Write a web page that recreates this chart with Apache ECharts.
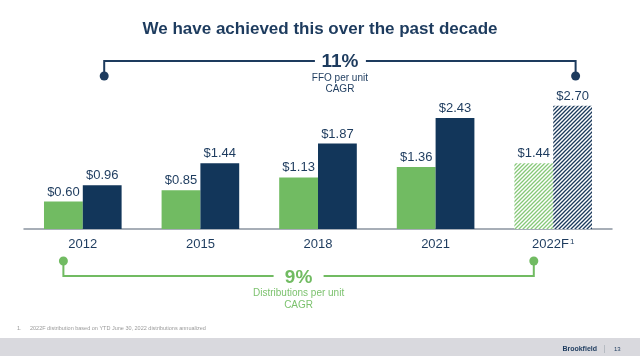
<!DOCTYPE html>
<html>
<head>
<meta charset="utf-8">
<script src="https://cdn.jsdelivr.net/npm/echarts@6/dist/echarts.min.js"></script>
<style>html,body{margin:0;padding:0;background:#fff}#c{width:640px;height:356px}</style>
</head>
<body>
<div id="c"></div>
<script>
const categories = ['2012', '2015', '2018', '2021', '2022F'];
const distributions = [0.60, 0.85, 1.13, 1.36, 1.44];
const ffo = [0.96, 1.44, 1.87, 2.43, 2.70];
const forecastIndex = 4;
const ffoCagr = '11%';
const distCagr = '9%';

const NAVY = '#12365a';
const NAVY_TXT = '#1d3b5e';
const GREEN = '#71bb62';
const GREEN_TXT = '#7cc26e';

function hatch(color) {
  const s = 4;
  const c = document.createElement('canvas');
  c.width = s; c.height = s;
  const g = c.getContext('2d');
  g.fillStyle = '#ffffff';
  g.fillRect(0, 0, s, s);
  g.strokeStyle = color;
  g.lineWidth = 1.3;
  g.beginPath();
  g.moveTo(-1, s + 1); g.lineTo(s + 1, -1);
  g.moveTo(-1, 1); g.lineTo(1, -1);
  g.moveTo(s - 1, s + 1); g.lineTo(s + 1, s - 1);
  g.stroke();
  return { image: c, repeat: 'repeat' };
}

function mk(values, color) {
  return values.map((v, i) => i === forecastIndex
    ? { value: v, itemStyle: { color: hatch(color) } }
    : v);
}

const chart = echarts.init(document.getElementById('c'), null, { renderer: 'canvas' });
const labelCfg = {
  show: true, position: 'top', distance: 3,
  formatter: p => '$' + p.value.toFixed(2),
  color: NAVY_TXT, fontSize: 13, fontFamily: 'Liberation Sans, Arial, sans-serif'
};
chart.setOption({
  animation: false,
  grid: { left: 24, right: 28, top: 92, bottom: 127 },
  title: {
    text: 'We have achieved this over the past decade',
    left: 'center', top: 16,
    textStyle: { color: NAVY_TXT, fontSize: 17, fontWeight: 'bold', fontFamily: 'Liberation Sans, Arial, sans-serif' }
  },
  xAxis: {
    type: 'category', data: categories,
    axisLine: { lineStyle: { color: '#8a94a0', width: 1.5 } },
    axisTick: { show: false },
    axisLabel: {
      margin: 9, color: NAVY_TXT, fontSize: 13, fontFamily: 'Liberation Sans, Arial, sans-serif',
      formatter: v => v === categories[forecastIndex] ? '{a|' + v + '}{s|1}' : v,
      rich: {
        a: { color: NAVY_TXT, fontSize: 13, fontFamily: 'Liberation Sans, Arial, sans-serif' },
        s: { color: NAVY_TXT, fontSize: 8, fontFamily: 'Liberation Sans, Arial, sans-serif', verticalAlign: 'top', padding: [0, 0, 5, 1] }
      }
    }
  },
  yAxis: { type: 'value', min: 0, max: 3, show: false, splitLine: { show: false } },
  series: [
    { type: 'bar', name: 'Distributions', data: mk(distributions, '#86c878'), barWidth: '33%', barGap: '0%',
      itemStyle: { color: GREEN }, label: labelCfg },
    { type: 'bar', name: 'FFO', data: mk(ffo, '#1b3a5c'), barWidth: '33%', barGap: '0%',
      itemStyle: { color: NAVY }, label: labelCfg }
  ]
});

const c0 = chart.convertToPixel({ xAxisIndex: 0 }, categories[0]);
const c1 = chart.convertToPixel({ xAxisIndex: 0 }, categories[1]);
const cl = chart.convertToPixel({ xAxisIndex: 0 }, categories[categories.length - 1]);
const bw = (c1 - c0) * 0.33;
const nL = c0 + bw / 2 + 2, nR = cl + bw / 2 + 3;
const gL = c0 - bw / 2, gR = cl - bw / 2;
const nMid = (nL + nR) / 2, gMid = (gL + gR) / 2;
const font = 'Liberation Sans, Arial, sans-serif';

const topY = 61, topDot = 76;
const botY = 276, botDot = 261;

chart.setOption({
  graphic: [
    { type: 'polyline', shape: { points: [[nL, topDot], [nL, topY], [nMid - 25, topY]] }, style: { stroke: NAVY_TXT, lineWidth: 2, fill: null } },
    { type: 'polyline', shape: { points: [[nMid + 26, topY], [nR, topY], [nR, topDot]] }, style: { stroke: NAVY_TXT, lineWidth: 2, fill: null } },
    { type: 'circle', shape: { cx: nL, cy: topDot, r: 4.5 }, style: { fill: NAVY_TXT } },
    { type: 'circle', shape: { cx: nR, cy: topDot, r: 4.5 }, style: { fill: NAVY_TXT } },
    { type: 'text', x: nMid, y: 62, style: { text: ffoCagr, fill: NAVY_TXT, font: 'bold 19px ' + font, align: 'center', verticalAlign: 'middle' } },
    { type: 'text', x: nMid, y: 78, style: { text: 'FFO per unit', fill: NAVY_TXT, font: '10px ' + font, align: 'center', verticalAlign: 'middle' } },
    { type: 'text', x: nMid, y: 89.5, style: { text: 'CAGR', fill: NAVY_TXT, font: '10px ' + font, align: 'center', verticalAlign: 'middle' } },

    { type: 'polyline', shape: { points: [[gL, botDot], [gL, botY], [gMid - 25, botY]] }, style: { stroke: GREEN, lineWidth: 2, fill: null } },
    { type: 'polyline', shape: { points: [[gMid + 25, botY], [gR, botY], [gR, botDot]] }, style: { stroke: GREEN, lineWidth: 2, fill: null } },
    { type: 'circle', shape: { cx: gL, cy: botDot, r: 4.5 }, style: { fill: GREEN } },
    { type: 'circle', shape: { cx: gR, cy: botDot, r: 4.5 }, style: { fill: GREEN } },
    { type: 'text', x: gMid, y: 278, style: { text: distCagr, fill: GREEN, font: 'bold 19px ' + font, align: 'center', verticalAlign: 'middle' } },
    { type: 'text', x: gMid, y: 293.5, style: { text: 'Distributions per unit', fill: GREEN_TXT, font: '10px ' + font, align: 'center', verticalAlign: 'middle' } },
    { type: 'text', x: gMid, y: 305.5, style: { text: 'CAGR', fill: GREEN_TXT, font: '10px ' + font, align: 'center', verticalAlign: 'middle' } },

    { type: 'text', x: 17, y: 328, style: { text: '1.', fill: '#9a9a9a', font: '5.5px ' + font, verticalAlign: 'middle' } },
    { type: 'text', x: 30, y: 328, style: { text: '2022F distribution based on YTD June 30, 2022 distributions annualized', fill: '#9a9a9a', font: '5.5px ' + font, verticalAlign: 'middle' } },
    { type: 'rect', shape: { x: 0, y: 338, width: 640, height: 18 }, style: { fill: '#d9d9de' } },
    { type: 'text', x: 597, y: 349, style: { text: 'Brookfield', fill: NAVY_TXT, font: 'bold 7px ' + font, align: 'right', verticalAlign: 'middle' } },
    { type: 'rect', shape: { x: 604, y: 345, width: 0.8, height: 8 }, style: { fill: '#aeb4bc' } },
    { type: 'text', x: 614, y: 349, style: { text: '13', fill: NAVY_TXT, font: '6px ' + font, verticalAlign: 'middle' } }
  ]
});
</script>
</body>
</html>
